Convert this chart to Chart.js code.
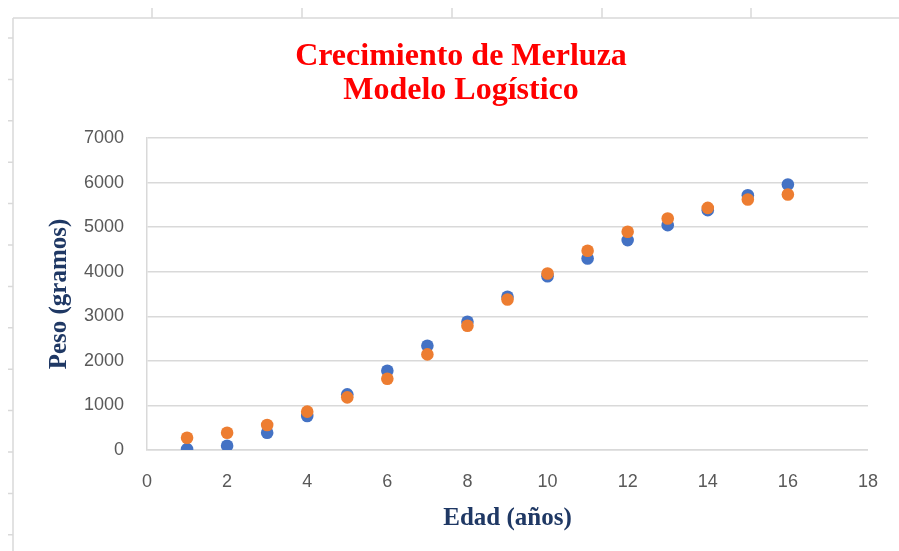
<!DOCTYPE html>
<html>
<head>
<meta charset="utf-8">
<script src="https://cdn.jsdelivr.net/npm/chart.js@4.4.1/dist/chart.umd.min.js"></script>
<style>
  html, body { margin: 0; padding: 0; background: #ffffff; }
  #wrap { width: 899px; height: 551px; position: relative; }
</style>
</head>
<body>
<div id="wrap"><canvas id="c" width="899" height="551"></canvas></div>
<script>
// ---- Data ----
const edades = [1, 2, 3, 4, 5, 6, 7, 8, 9, 10, 11, 12, 13, 14, 15, 16];
const pesoObservado = [20, 96, 388, 762, 1249, 1778, 2339, 2877, 3438, 3900, 4297, 4709, 5045, 5381, 5717, 5957];
const pesoModelo = [276, 388, 560, 860, 1181, 1600, 2145, 2787, 3378, 3961, 4469, 4895, 5194, 5433, 5621, 5733];
const xTicks = [0, 2, 4, 6, 8, 10, 12, 14, 16, 18];
const yTicks = [0, 1000, 2000, 3000, 4000, 5000, 6000, 7000];
const tituloLineas = ["Crecimiento de Merluza", "Modelo Logístico"];
const tituloX = "Edad (años)";
const tituloY = "Peso (gramos)";

const toPoints = (xs, ys) => xs.map((x, i) => ({ x: x, y: ys[i] }));

// Decorative spreadsheet frame (background, not data)
const sheetFrame = {
  id: 'sheetFrame',
  beforeDraw(chart) {
    const ctx = chart.ctx;
    ctx.save();
    ctx.strokeStyle = '#d9d9d9';
    ctx.lineWidth = 1.5;
    ctx.beginPath();
    ctx.moveTo(13, 18); ctx.lineTo(899, 18);
    ctx.moveTo(13, 18); ctx.lineTo(13, 551);
    [152, 302, 452, 602, 751].forEach(x => { ctx.moveTo(x, 8); ctx.lineTo(x, 18); });
    for (let k = 0; k < 13; k++) {
      const y = 38 + 41.4 * k;
      ctx.moveTo(8, y); ctx.lineTo(13, y);
    }
    ctx.stroke();
    ctx.restore();
  }
};

new Chart(document.getElementById('c'), {
  type: 'scatter',
  data: {
    datasets: [
      {
        label: 'Peso observado',
        data: toPoints(edades, pesoObservado),
        backgroundColor: '#4472C4',
        borderColor: '#4472C4',
        pointRadius: 6.3,
        pointBorderWidth: 0,
        order: 2
      },
      {
        label: 'Modelo logístico',
        data: toPoints(edades, pesoModelo),
        backgroundColor: '#ED7D31',
        borderColor: '#ED7D31',
        pointRadius: 6.3,
        pointBorderWidth: 0,
        order: 1
      }
    ]
  },
  options: {
    responsive: false,
    animation: false,
    devicePixelRatio: 1,
    layout: { padding: { left: 54, right: 31, top: 0, bottom: 0 } },
    plugins: {
      legend: { display: false },
      tooltip: { enabled: false },
      title: {
        display: true,
        text: tituloLineas,
        color: '#FF0000',
        font: { family: '"Liberation Serif", "Times New Roman", serif', size: 32, weight: 'bold', lineHeight: '34px' },
        padding: { top: 40, bottom: 30 }
      }
    },
    scales: {
      x: {
        type: 'linear',
        min: 0,
        max: 18,
        afterFit(scale) { scale.height = 101; },
        afterBuildTicks(scale) { scale.ticks = xTicks.map(v => ({ value: v })); },
        grid: { display: false, drawTicks: false },
        border: { display: true, color: '#d9d9d9', width: 1.5 },
        ticks: {
          color: '#595959',
          font: { family: '"Liberation Sans", Arial, sans-serif', size: 18 },
          padding: 21,
          callback: (v) => String(v)
        },
        title: {
          display: true,
          text: tituloX,
          color: '#1F3864',
          font: { family: '"Liberation Serif", "Times New Roman", serif', size: 25, weight: 'bold', lineHeight: '30px' },
          padding: { top: 0, bottom: 17 }
        }
      },
      y: {
        type: 'linear',
        min: 0,
        max: 7000,
        afterFit(scale) { scale.width = 93; },
        afterBuildTicks(scale) { scale.ticks = yTicks.map(v => ({ value: v })); },
        grid: { color: '#d9d9d9', lineWidth: 1.5, drawTicks: false },
        border: { display: true, color: '#d9d9d9', width: 1.5 },
        ticks: {
          color: '#595959',
          font: { family: '"Liberation Sans", Arial, sans-serif', size: 18 },
          padding: 23,
          callback: (v) => String(v)
        },
        title: {
          display: true,
          text: tituloY,
          color: '#1F3864',
          font: { family: '"Liberation Serif", "Times New Roman", serif', size: 25, weight: 'bold', lineHeight: '12px' },
          padding: { top: 0, bottom: 0 }
        }
      }
    }
  },
  plugins: [sheetFrame]
});
</script>
</body>
</html>
